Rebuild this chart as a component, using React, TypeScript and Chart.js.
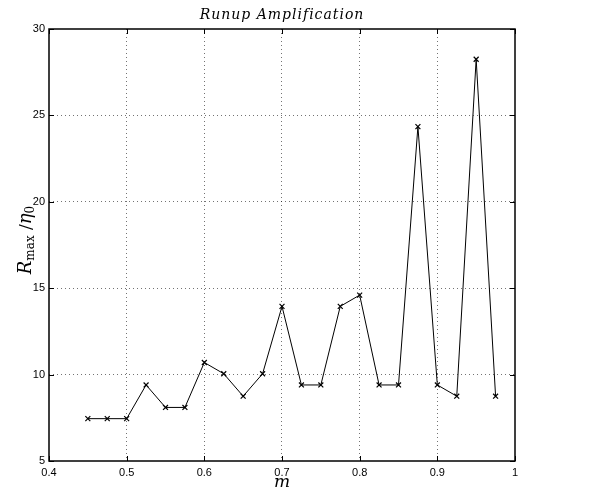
import React, { useEffect, useRef } from "react";
import { Chart, registerables } from "chart.js";

Chart.register(...registerables);

const mValues = [0.45, 0.475, 0.5, 0.525, 0.55, 0.575, 0.6, 0.625, 0.65, 0.675, 0.7, 0.725, 0.75, 0.775, 0.8, 0.825, 0.85, 0.875, 0.9, 0.925, 0.95, 0.975];
const runupValues = [7.45, 7.45, 7.45, 9.4, 8.1, 8.1, 10.7, 10.05, 8.75, 10.05, 13.95, 9.4, 9.4, 13.95, 14.6, 9.4, 9.4, 24.35, 9.4, 8.75, 28.25, 8.75];
const xTickValues = [0.4, 0.5, 0.6, 0.7, 0.8, 0.9, 1];
const xTickLabels = ["0.4", "0.5", "0.6", "0.7", "0.8", "0.9", "1"];
const yTickValues = [5, 10, 15, 20, 25, 30];
const yTickLabels = ["5", "10", "15", "20", "25", "30"];
const titleText = "Runup Amplification";
const xLabelText = "m";

const TICK_FONT = "Liberation Sans, Arial, Helvetica, sans-serif";
const SERIF = "DejaVu Serif, Liberation Serif, serif";

const framePlugin = {
  id: "frame",
  afterDraw(chart: any) {
    const { ctx, chartArea } = chart;
    const { left, right, top, bottom } = chartArea;
    const xs = chart.scales.x;
    const ys = chart.scales.y;
    ctx.save();
    // box
    ctx.strokeStyle = "#000";
    ctx.lineWidth = 1.5;
    ctx.strokeRect(left, top, right - left, bottom - top);
    // inner ticks
    ctx.lineWidth = 1;
    const tl = 5;
    ctx.beginPath();
    xTickValues.forEach((v) => {
      const px = Math.round(xs.getPixelForValue(v)) + 0.5;
      ctx.moveTo(px, bottom);
      ctx.lineTo(px, bottom - tl);
      ctx.moveTo(px, top);
      ctx.lineTo(px, top + tl);
    });
    yTickValues.forEach((v) => {
      const py = Math.round(ys.getPixelForValue(v)) + 0.5;
      ctx.moveTo(left, py);
      ctx.lineTo(left + tl, py);
      ctx.moveTo(right, py);
      ctx.lineTo(right - tl, py);
    });
    ctx.stroke();

    ctx.fillStyle = "#000";
    // title
    ctx.font = "italic 14px " + SERIF;
    ctx.textAlign = "center";
    ctx.textBaseline = "alphabetic";
    try {
      (ctx as any).letterSpacing = "1px";
    } catch (e) {}
    ctx.fillText(titleText, (left + right) / 2, 19);
    try {
      (ctx as any).letterSpacing = "0px";
    } catch (e) {}
    // x label
    ctx.font = "italic 17px " + SERIF;
    ctx.fillText(xLabelText, (left + right) / 2, 487);

    // y label: R_max / eta_0
    const parts = [
      { t: "R", f: "italic 18px " + SERIF, dy: 0 },
      { t: "max", f: "12px " + SERIF, dy: 3 },
      { t: " /", f: "17px " + SERIF, dy: 0 },
      { t: "\u03b7", f: "italic 18px " + SERIF, dy: 0 },
      { t: "0", f: "12px " + SERIF, dy: 3 },
    ];
    let total = 0;
    const widths = parts.map((p) => {
      ctx.font = p.f;
      const w = ctx.measureText(p.t).width;
      total += w;
      return w;
    });
    ctx.translate(31, (top + bottom) / 2 - 5);
    ctx.rotate(-Math.PI / 2);
    ctx.textAlign = "left";
    let x = -total / 2;
    parts.forEach((p, i) => {
      ctx.font = p.f;
      ctx.fillText(p.t, x, p.dy);
      x += widths[i];
    });
    ctx.restore();
  },
};

export default function App() {
  const canvasRef = useRef<HTMLCanvasElement | null>(null);

  useEffect(() => {
    document.body.style.margin = "0";
    const canvas = canvasRef.current;
    if (!canvas) return;
    const gridColor = (ctx: any) => {
      const v = ctx.tick ? ctx.tick.value : null;
      const scale = ctx.scale;
      if (v === scale.min || v === scale.max) return "rgba(0,0,0,0)";
      return "rgba(0,0,0,0.55)";
    };
    const chart = new Chart(canvas, {
      type: "line",
      data: {
        datasets: [
          {
            data: mValues.map((m, i) => ({ x: m, y: runupValues[i] })),
            borderColor: "#000",
            backgroundColor: "#000",
            borderWidth: 1,
            pointStyle: "crossRot",
            pointRadius: 3.5,
            pointBorderWidth: 1.2,
            pointBorderColor: "#000",
            tension: 0,
            fill: false,
          },
        ],
      },
      options: {
        animation: false,
        responsive: false,
        maintainAspectRatio: false,
        layout: { padding: { left: 0, top: 29, right: 101, bottom: 0 } },
        plugins: {
          legend: { display: false },
          title: { display: false },
          tooltip: { enabled: false },
        },
        scales: {
          x: {
            type: "linear",
            min: 0.4,
            max: 1,
            afterFit: (s: any) => {
              s.height = 35;
            },
            afterBuildTicks: (s: any) => {
              s.ticks = xTickValues.map((v) => ({ value: v }));
            },
            ticks: {
              callback: (v: any) => {
                const i = xTickValues.findIndex((t) => Math.abs(t - Number(v)) < 1e-9);
                return i >= 0 ? xTickLabels[i] : "";
              },
              color: "#000",
              font: { family: TICK_FONT, size: 11 },
              padding: 5,
              maxRotation: 0,
              autoSkip: false,
            },
            grid: { color: gridColor, lineWidth: 1, drawTicks: false },
            border: { display: false, dash: [1, 3] },
          },
          y: {
            type: "linear",
            min: 5,
            max: 30,
            afterFit: (s: any) => {
              s.width = 49;
            },
            afterBuildTicks: (s: any) => {
              s.ticks = yTickValues.map((v) => ({ value: v }));
            },
            ticks: {
              callback: (v: any) => {
                const i = yTickValues.indexOf(Number(v));
                return i >= 0 ? yTickLabels[i] : "";
              },
              color: "#000",
              font: { family: TICK_FONT, size: 11 },
              padding: 4,
              autoSkip: false,
            },
            grid: { color: gridColor, lineWidth: 1, drawTicks: false },
            border: { display: false, dash: [1, 3] },
          },
        },
      },
      plugins: [framePlugin],
    });
    return () => chart.destroy();
  }, []);

  return (
    <div style={{ position: "fixed", left: 0, top: 0, width: 616, height: 496, background: "#fff" }}>
      <canvas ref={canvasRef} width={616} height={496} style={{ width: 616, height: 496, display: "block" }} />
    </div>
  );
}
